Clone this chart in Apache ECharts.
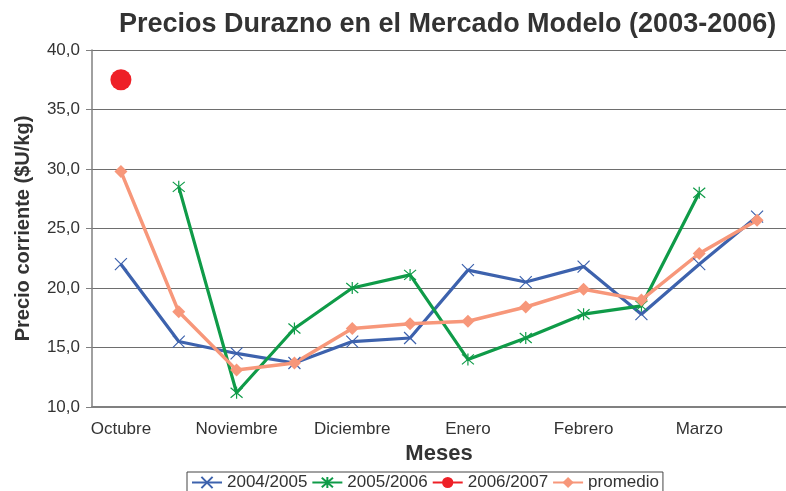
<!DOCTYPE html>
<html>
<head>
<meta charset="utf-8">
<script src="https://cdn.jsdelivr.net/npm/echarts@6/dist/echarts.min.js"></script>
<style>
  html, body { margin: 0; padding: 0; background: #fff; }
  #main { width: 786px; height: 491px; }
</style>
</head>
<body>
<div id="main"></div>
<script>
// quincenas oct-mar, only first of each month gets a label
var categorias = ['Octubre', 'Octubre 2', 'Noviembre', 'Noviembre 2', 'Diciembre', 'Diciembre 2',
                  'Enero', 'Enero 2', 'Febrero', 'Febrero 2', 'Marzo', 'Marzo 2']
var serie0405 = [22.0, 15.5, 14.5, 13.7, 15.5, 15.8, 21.5, 20.5, 21.8, 17.8, 22.0, 26.0]
var serie0506 = [null, 28.5, 11.2, 16.6, 20.0, 21.1, 14.0, 15.8, 17.8, 18.5, 28.0, null]
var serie0607 = [37.5, null, null, null, null, null, null, null, null, null, null, null]
var promedio  = [29.8, 18.0, 13.1, 13.7, 16.6, 17.0, 17.2, 18.4, 19.9, 19.0, 22.9, 25.7]
var yTicks = [10, 15, 20, 25, 30, 35, 40]

var myChart = echarts.init(document.getElementById('main'))

var fuente = 'Liberation Sans, Arial, sans-serif'
var symCruz = 'path://M0,0L10,10M10,0L0,10'
var symAst = 'path://M0,0L10,10M10,0L0,10M5,-1L5,11'

myChart.setOption({
    animation: false,
    textStyle: { fontFamily: fuente },
    title: {
        text: 'Precios Durazno en el Mercado Modelo (2003-2006)',
        left: 114,
        top: 6,
        textStyle: { fontSize: 27, fontWeight: 'bold', color: '#333', fontFamily: fuente }
    },
    legend: {
        left: 187,
        top: 472,
        padding: [2, 4, 8, 4],
        itemGap: 4,
        itemWidth: 30,
        itemHeight: 14,
        borderColor: '#444',
        borderWidth: 1,
        textStyle: { fontSize: 17, color: '#333', fontFamily: fuente },
        data: ['2004/2005', '2005/2006', '2006/2007', 'promedio']
    },
    grid: {
        left: 92,
        top: 50,
        width: 696,
        height: 357
    },
    xAxis: {
        type: 'category',
        data: categorias,
        boundaryGap: true,
        name: 'Meses',
        nameLocation: 'middle',
        nameGap: 36,
        nameTextStyle: { fontSize: 22, fontWeight: 'bold', color: '#333' },
        axisLine: { lineStyle: { color: '#808080', width: 2 } },
        axisTick: { interval: 0, length: 6, lineStyle: { color: '#808080', width: 1.5 } },
        axisLabel: {
            interval: function (i) { return i % 2 === 0 },
            margin: 14,
            fontSize: 17,
            color: '#333'
        },
        splitLine: { show: false }
    },
    yAxis: {
        type: 'value',
        min: yTicks[0],
        max: yTicks[yTicks.length - 1],
        interval: 5,
        name: 'Precio corriente ($U/kg)',
        nameLocation: 'middle',
        nameGap: 59,
        nameTextStyle: { fontSize: 20, fontWeight: 'bold', color: '#333' },
        axisLine: { show: true, lineStyle: { color: '#808080', width: 1.5 } },
        axisTick: { show: true, length: 6, lineStyle: { color: '#808080' } },
        axisLabel: {
            margin: 12,
            fontSize: 17,
            color: '#333',
            formatter: function (v) { return v.toFixed(1).replace('.', ',') }
        },
        splitLine: { lineStyle: { color: '#6e6e6e', width: 1.2 } }
    },
    series: [
        {
            name: '2004/2005',
            type: 'line',
            data: serie0405,
            symbol: symCruz,
            symbolSize: 12,
            lineStyle: { color: '#3d62ad', width: 3.2 },
            itemStyle: { color: '#3d62ad', borderColor: '#3d62ad', borderWidth: 1.2 }
        },
        {
            name: '2005/2006',
            type: 'line',
            data: serie0506,
            symbol: symAst,
            symbolSize: 12,
            lineStyle: { color: '#0f9b48', width: 3.2 },
            itemStyle: { color: '#0f9b48', borderColor: '#0f9b48', borderWidth: 1.2 }
        },
        {
            name: '2006/2007',
            type: 'line',
            data: serie0607,
            symbol: 'circle',
            symbolSize: 21,
            lineStyle: { color: '#ee2027', width: 3 },
            itemStyle: { color: '#ee2027' }
        },
        {
            name: 'promedio',
            type: 'line',
            data: promedio,
            symbol: 'diamond',
            symbolSize: 13,
            lineStyle: { color: '#f7977a', width: 3.5 },
            itemStyle: { color: '#f7977a' }
        }
    ]
})
</script>
</body>
</html>
